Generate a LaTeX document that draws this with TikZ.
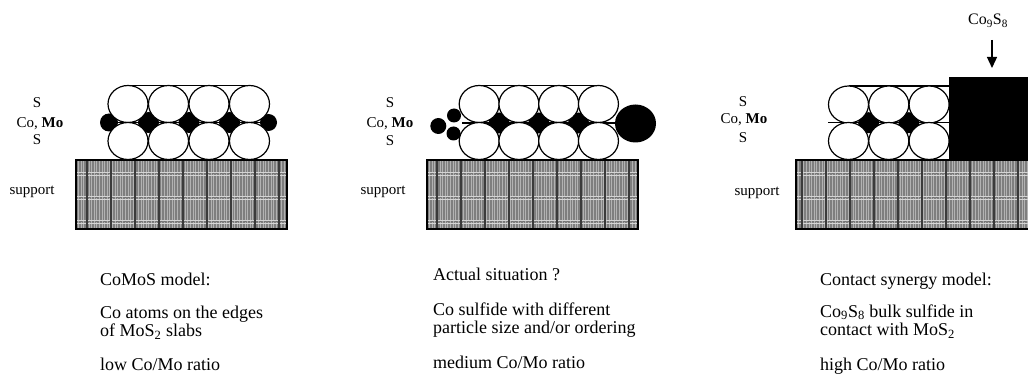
\documentclass[tikz,border=0pt]{standalone}
\usepackage{fontspec}
\setmainfont{Liberation Serif}
\usetikzlibrary{arrows.meta}

\definecolor{supbase}{HTML}{7E7E7E}
\definecolor{supstripe}{HTML}{B2B2B2}
\definecolor{supgrid}{HTML}{3A3A3A}
\definecolor{supband}{HTML}{D4D4D4}

\tikzset{
  atom/.style={draw=black, line width=1.2pt, fill=white},
  metal/.style={fill=black},
  bond/.style={draw=black, line width=1.1pt},
  caption/.style={anchor=base west, inner sep=0pt, font=\fontsize{18}{18}\selectfont},
  layerlbl/.style={anchor=base, inner sep=0pt, font=\fontsize{15}{15}\selectfont},
  supframe/.style={draw=black, line width=1.3pt},
  pointer/.style={line width=1.3pt, -{Triangle[length=11pt,width=10pt]}},
}

% textured support slab: #1 left, #2 right, #3 first dark grid line
\newcommand{\drawsupport}[3]{%
  \fill[supbase] (#1,160) rectangle (#2,229);
  \pgfmathsetmacro{\stripetwo}{#1+2.6}
  \foreach \sx in {#1,\stripetwo,...,#2}
    \draw[supstripe, line width=1pt] (\sx,160) -- (\sx,229);
  \foreach \by in {174,198,222}{
    \draw[supband, line width=0.9pt] (#1,\by-1.7) -- (#2,\by-1.7);
    \draw[supband, line width=0.9pt] (#1,\by+1.7) -- (#2,\by+1.7);
    \draw[supgrid!70, line width=1pt, dash pattern=on 2pt off 2pt] (#1,\by) -- (#2,\by);
  }
  \pgfmathsetmacro{\gridtwo}{#3+24}
  \foreach \gx in {#3,\gridtwo,...,#2}
    \draw[supgrid, line width=1.8pt] (\gx,160) -- (\gx,229);
  \draw[supframe] (#1,160) rectangle (#2,229);
}

\begin{document}
\begin{tikzpicture}[x=1pt, y=-1pt]
\useasboundingbox (0,0) rectangle (1028,374);
\clip (0,0) rectangle (1028,374);

% ---------------- CoMoS model ----------------
\drawsupport{76}{287}{87}
\draw[bond] (111,122.5) -- (267.5,122.5);
\draw[bond] (128,85.5) -- (249.5,85.5);
\foreach \k in {1,2,3}
  \fill[metal] (108+40.5*\k,122.5) circle [radius=10.5pt];
\fill[metal] (109,122.5) circle [radius=9pt];
\fill[metal] (268.5,122.5) circle [radius=8.5pt];
\foreach \k in {0,1,2,3}{
  \draw[atom] (128+40.5*\k,104) ellipse [x radius=20pt, y radius=18.5pt];
  \draw[atom] (128+40.5*\k,141) ellipse [x radius=20pt, y radius=18.5pt];
}

\node[layerlbl] (p1s1) at (37,108) {S};
\node[layerlbl] (p1com) at (40,127.5) {Co, \textbf{Mo}};
\node[layerlbl] (p1s2) at (37,145) {S};
\node[layerlbl] (p1sup) at (32,195) {support};

\node[caption] (p1t1) at (100,285) {CoMoS model:};
\node[caption] (p1t2) at (100,318) {Co atoms on the edges};
\node[caption] (p1t3) at (100,336.5) {of MoS\textsubscript{2} slabs};
\node[caption] (p1t4) at (100,370) {low Co/Mo ratio};

% ---------------- Actual situation ----------------
\drawsupport{427}{638}{437}
\draw[bond] (462,123) -- (616,123);
\draw[bond] (479.2,85.5) -- (598.5,85.5);
\foreach \k in {1,2,3}
  \fill[metal] (459.3+39.75*\k,123) circle [radius=10.5pt];
\foreach \k in {0,1,2,3}{
  \draw[atom] (479.2+39.75*\k,104) ellipse [x radius=20pt, y radius=18.5pt];
  \draw[atom] (479.2+39.75*\k,141) ellipse [x radius=20pt, y radius=18.5pt];
}
\fill[metal] (438.3,126) circle [radius=8pt];
\fill[metal] (454,115.5) circle [radius=7pt];
\fill[metal] (453.5,133.5) circle [radius=7pt];
\fill[metal] (635.5,123.5) ellipse [x radius=20.5pt, y radius=19pt];

\node[layerlbl] (p2s1) at (390,108) {S};
\node[layerlbl] (p2com) at (390,128) {Co, \textbf{Mo}};
\node[layerlbl] (p2s2) at (390,145.5) {S};
\node[layerlbl] (p2sup) at (383,195) {support};

\node[caption] (p2t1) at (433,280) {Actual situation ?};
\node[caption] (p2t2) at (433,315) {Co sulfide with different};
\node[caption] (p2t3) at (433,333.5) {particle size and/or ordering};
\node[caption] (p2t4) at (433,368) {medium Co/Mo ratio};

% ---------------- Contact synergy model ----------------
\drawsupport{796}{1030}{802}
\draw[bond] (828,122.7) -- (949,122.7);
\draw[bond] (848.5,86) -- (949,86);
\foreach \k in {1,2}
  \fill[metal] (828.3+40.3*\k,122.7) circle [radius=10.5pt];
\foreach \k in {0,1,2}{
  \draw[atom] (848.5+40.3*\k,104.5) ellipse [x radius=20pt, y radius=18.5pt];
  \draw[atom] (848.5+40.3*\k,141) ellipse [x radius=20pt, y radius=18.5pt];
}
\fill[metal] (949.3,77) rectangle (1030,159.5);

\node[layerlbl] (p3s1) at (743,106.5) {S};
\node[layerlbl] (p3com) at (744,124) {Co, \textbf{Mo}};
\node[layerlbl] (p3s2) at (743,143) {S};
\node[layerlbl] (p3sup) at (757,196) {support};

\node[inner sep=0pt, font=\fontsize{16}{16}\selectfont] (co9s8) at (988,21) {Co\textsubscript{9}S\textsubscript{8}};
\coordinate (ptrtail) at (992,40);
\coordinate (ptrtip) at (992,68);
\draw[pointer] (ptrtail) -- (ptrtip);

\node[caption] (p3t1) at (820,285) {Contact synergy model:};
\node[caption] (p3t2) at (820,317) {Co\textsubscript{9}S\textsubscript{8} bulk sulfide in};
\node[caption] (p3t3) at (820,335.5) {contact with MoS\textsubscript{2}};
\node[caption] (p3t4) at (820,370) {high Co/Mo ratio};
\end{tikzpicture}
\end{document}
